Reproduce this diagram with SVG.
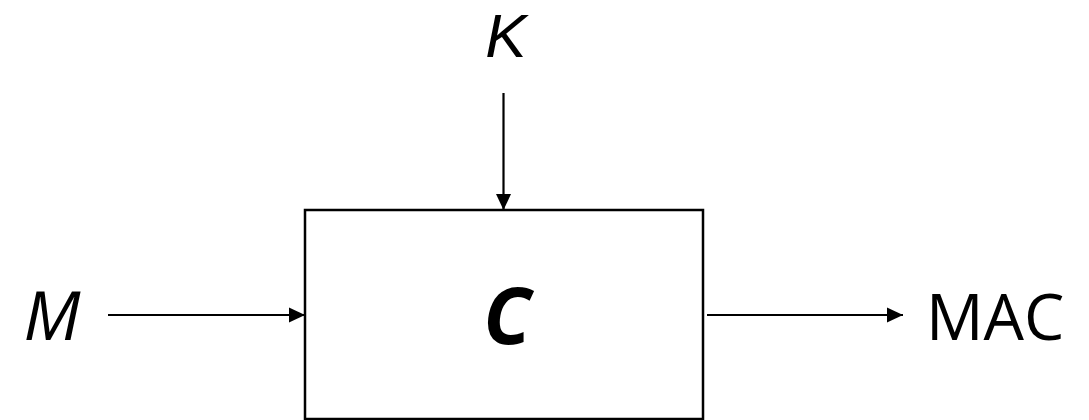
<svg xmlns="http://www.w3.org/2000/svg" width="1089" height="420" viewBox="0 0 1089 420">
<style>
.t{font-family:"Open Sans","Liberation Sans",sans-serif;fill:#000}
.k{font-family:"Liberation Sans",sans-serif;fill:#000}
.ln{stroke:#000;stroke-width:2.2;fill:none}
</style>
<defs>
<marker id="ah" markerUnits="userSpaceOnUse" markerWidth="17" markerHeight="16" refX="16" refY="8" orient="auto">
<path d="M0,0.5 L16,8 L0,15.5 Z" fill="#000"/>
</marker>
</defs>
<rect width="1089" height="420" fill="#fff"/>
<g id="box">
<rect x="305" y="210" width="398" height="209" fill="#fff" stroke="#000" stroke-width="2.5"/>
<text class="t" x="507" y="344" font-size="78" font-weight="bold" font-style="italic" text-anchor="middle">C</text>
</g>
<g id="labelK"><text class="k" x="506" y="57" font-size="62" font-style="italic" text-anchor="middle">K</text></g>
<g id="labelM"><text class="t" x="52" y="340" font-size="68" font-style="italic" text-anchor="middle">M</text></g>
<g id="labelMAC"><text class="t" x="926" y="340" font-size="64">MAC</text></g>
<g id="connectors">
<line class="ln" x1="503.5" y1="93" x2="503.5" y2="210" marker-end="url(#ah)"/>
<line class="ln" x1="108" y1="315" x2="305" y2="315" marker-end="url(#ah)"/>
<line class="ln" x1="707" y1="315" x2="903" y2="315" marker-end="url(#ah)"/>
</g>
</svg>
